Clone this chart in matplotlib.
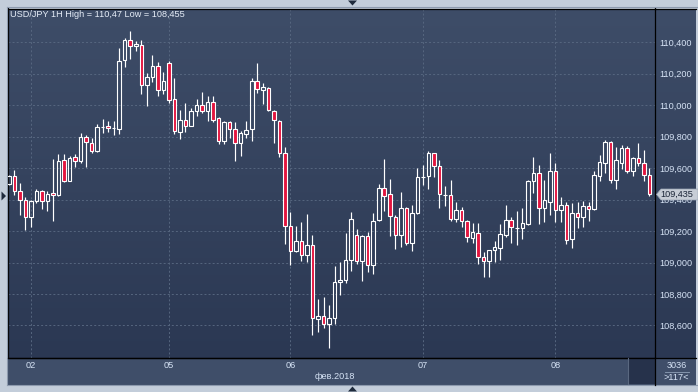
import matplotlib
matplotlib.use('Agg')
import matplotlib.pyplot as plt
import numpy as np
from matplotlib.patches import Rectangle, Polygon
from matplotlib.colors import LinearSegmentedColormap
import matplotlib.transforms as mtransforms

# ---------------- data ----------------
open_ = [
    109.499, 109.547, 109.452, 109.395, 109.287, 109.393, 109.452, 109.393, 109.441, 109.431,
    109.649, 109.520, 109.668, 109.647, 109.796, 109.757, 109.706, 109.862, 109.866, 109.857,
    109.851, 110.285, 110.413, 110.374, 110.381, 110.131, 110.177, 110.247, 110.095, 110.268,
    110.039, 109.827, 109.908, 109.870, 109.961, 109.999, 109.961, 110.018, 109.919, 109.770,
    109.891, 109.846, 109.757, 109.815, 109.846, 110.152, 110.094, 110.107, 109.961, 109.897,
    109.694, 109.229, 109.075, 109.134, 109.049, 109.113, 108.638, 108.663, 108.610, 108.650,
    108.879, 108.886, 109.019, 109.176, 109.007, 109.166, 108.981, 109.272, 109.471, 109.433,
    109.287, 109.172, 109.344, 109.121, 109.312, 109.545, 109.547, 109.694, 109.615, 109.429,
    109.427, 109.278, 109.333, 109.261, 109.153, 109.185, 109.034, 109.007, 109.077, 109.094,
    109.176, 109.270, 109.217, 109.217, 109.246, 109.518, 109.567, 109.344, 109.386, 109.584,
    109.331, 109.363, 109.147, 109.312, 109.287, 109.357, 109.338, 109.550, 109.634, 109.764,
    109.522, 109.630, 109.730, 109.584, 109.662, 109.630, 109.554,
]
close = [
    109.547, 109.452, 109.399, 109.287, 109.393, 109.452, 109.388, 109.435, 109.427, 109.643,
    109.516, 109.664, 109.643, 109.796, 109.764, 109.706, 109.861, 109.864, 109.855, 109.857,
    110.279, 110.413, 110.374, 110.389, 110.131, 110.177, 110.247, 110.095, 110.152, 110.035,
    109.834, 109.904, 109.870, 109.961, 109.999, 109.965, 110.018, 109.908, 109.770, 109.891,
    109.846, 109.757, 109.821, 109.840, 110.152, 110.101, 110.114, 109.967, 109.904, 109.694,
    109.229, 109.070, 109.134, 109.045, 109.113, 108.644, 108.663, 108.610, 108.650, 108.879,
    108.886, 109.019, 109.274, 109.007, 109.166, 108.981, 109.267, 109.471, 109.426, 109.293,
    109.172, 109.344, 109.121, 109.312, 109.541, 109.545, 109.694, 109.611, 109.435, 109.429,
    109.278, 109.333, 109.261, 109.159, 109.193, 109.034, 109.007, 109.077, 109.098, 109.179,
    109.270, 109.223, 109.217, 109.248, 109.518, 109.567, 109.344, 109.395, 109.582, 109.331,
    109.363, 109.143, 109.312, 109.287, 109.357, 109.338, 109.556, 109.641, 109.764, 109.522,
    109.649, 109.730, 109.584, 109.662, 109.630, 109.554, 109.435,
]
high = [
    109.558, 109.586, 109.505, 109.416, 109.399, 109.469, 109.463, 109.452, 109.658, 109.689,
    109.689, 109.675, 109.689, 109.823, 109.813, 109.791, 109.880, 109.912, 109.897, 109.897,
    110.364, 110.427, 110.470, 110.410, 110.413, 110.205, 110.317, 110.275, 110.211, 110.279,
    110.173, 109.972, 110.014, 109.982, 110.042, 110.082, 110.056, 110.056, 109.923, 109.897,
    109.901, 109.891, 109.834, 109.901, 110.173, 110.268, 110.141, 110.114, 109.967, 109.906,
    109.734, 109.320, 109.231, 109.257, 109.308, 109.176, 108.769, 108.782, 108.731, 108.975,
    109.002, 109.187, 109.320, 109.214, 109.176, 109.193, 109.314, 109.499, 109.658, 109.530,
    109.303, 109.448, 109.356, 109.367, 109.600, 109.622, 109.706, 109.696, 109.651, 109.486,
    109.524, 109.382, 109.350, 109.270, 109.248, 109.253, 109.068, 109.079, 109.136, 109.244,
    109.365, 109.291, 109.329, 109.344, 109.524, 109.673, 109.620, 109.524, 109.698, 109.630,
    109.414, 109.382, 109.380, 109.386, 109.391, 109.386, 109.584, 109.686, 109.779, 109.775,
    109.732, 109.747, 109.743, 109.669, 109.762, 109.715, 109.598,
]
low = [
    109.494, 109.431, 109.304, 109.208, 109.225, 109.378, 109.342, 109.325, 109.265, 109.424,
    109.511, 109.516, 109.609, 109.634, 109.609, 109.696, 109.702, 109.823, 109.832, 109.808,
    109.817, 110.243, 110.294, 110.343, 110.073, 109.997, 110.148, 110.061, 110.071, 110.014,
    109.817, 109.785, 109.829, 109.866, 109.929, 109.948, 109.897, 109.893, 109.755, 109.755,
    109.791, 109.643, 109.679, 109.791, 109.774, 110.078, 110.010, 109.961, 109.759, 109.672,
    109.119, 108.985, 109.064, 109.007, 109.002, 108.538, 108.559, 108.584, 108.455, 108.606,
    108.795, 108.869, 108.947, 108.992, 108.884, 108.937, 108.928, 109.267, 109.329, 109.166,
    109.087, 109.096, 109.113, 109.075, 109.310, 109.494, 109.469, 109.543, 109.344, 109.359,
    109.265, 109.259, 109.227, 109.132, 109.121, 108.990, 108.909, 108.909, 109.005, 109.015,
    109.159, 109.126, 109.111, 109.147, 109.238, 109.439, 109.244, 109.259, 109.302, 109.259,
    109.259, 109.117, 109.094, 109.217, 109.227, 109.265, 109.333, 109.520, 109.567, 109.503,
    109.467, 109.592, 109.571, 109.550, 109.615, 109.518, 109.425,
]

day_labels = ['02', '05', '06', '07', '08']
day_bar_index = [4, 29, 51, 75, 99]
price_ticks = [108.6, 108.8, 109.0, 109.2, 109.4, 109.6, 109.8, 110.0, 110.2, 110.4]
title_text = 'USD/JPY 1H High = 110,47 Low = 108,455'
last_price_text = '109,435'
month_text = 'фев.2018'
corner_top_text = '3036'
corner_bottom_text = '>117<'

# ---------------- styling ----------------
W, H = 698, 392
FONT = 'Liberation Sans'
FS = 6.6
TXT = '#d6e3f5'
RED = '#e3153f'
GRID = '#56667f'
TOP_BG = '#3e4d68'
BOT_BG = '#2b3853'
BAND = '#3f4e69'
FRAME = '#c3cdda'

plt.rcParams['font.family'] = [FONT, 'DejaVu Sans']

fig = plt.figure(figsize=(W / 100, H / 100), dpi=100)
fig.patch.set_facecolor(FRAME)


def rect(x0, y0, x1, y1):
    return [x0 / W, 1 - y1 / H, (x1 - x0) / W, (y1 - y0) / H]


grad_cmap = LinearSegmentedColormap.from_list('bg', [TOP_BG, BOT_BG])
grad = np.linspace(0, 1, 256).reshape(-1, 1)

# right price panel background
axr = fig.add_axes(rect(655, 8.5, 696, 357.5), zorder=1)
axr.imshow(grad, cmap=grad_cmap, aspect='auto', extent=[0, 1, 0, 1],
           transform=axr.transAxes, origin='upper')
axr.set_axis_off()

# bottom date band
axb = fig.add_axes(rect(8, 357.5, 696, 384.5), zorder=1)
axb.set_facecolor(BAND)
axb.set_xticks([]); axb.set_yticks([])
for s in axb.spines.values():
    s.set_visible(False)

# main chart axes
n = len(open_)
ax = fig.add_axes(rect(8, 8.5, 655, 357.5), zorder=3)
ax.patch.set_alpha(0)
ax.imshow(grad, cmap=grad_cmap, aspect='auto', extent=[0, 1, 0, 1],
          transform=ax.transAxes, origin='upper', zorder=0)
ax.set_xlim(-0.14, 117.03)
ax.set_ylim(108.396, 110.615)

for yv in price_ticks:
    ax.axhline(yv, color=GRID, lw=0.7, ls=(0, (2.0, 2.2)), zorder=1)
for xv in day_bar_index:
    ax.axvline(xv, color=GRID, lw=0.7, ls=(0, (2.0, 2.2)), zorder=1)

bw = 0.64
for i in range(n):
    o, h, l, c = open_[i], high[i], low[i], close[i]
    top, bot = max(o, c), min(o, c)
    bear = c < o
    ax.vlines(i, top, h, color='white', lw=0.85, zorder=2)
    ax.vlines(i, l, bot, color='white', lw=0.85, zorder=2)
    ax.add_patch(Rectangle((i - bw / 2, bot), bw, max(top - bot, 0.0005),
                           facecolor=RED if bear else 'none',
                           edgecolor='white', lw=0.8, zorder=3))

ax.yaxis.tick_right()
ax.set_yticks(price_ticks)
ax.set_yticklabels([f'{v:.3f}'.replace('.', ',') for v in price_ticks])
ax.set_xticks(day_bar_index)
ax.set_xticklabels(day_labels)
ax.tick_params(axis='y', length=0, pad=3.0, labelsize=FS, labelcolor=TXT)
ax.tick_params(axis='x', length=0, pad=2.6, labelsize=FS, labelcolor=TXT)
for s in ax.spines.values():
    s.set_color('black'); s.set_linewidth(0.9)

ax.text(0.003, 0.982, title_text, transform=ax.transAxes, ha='left', va='center',
        fontsize=FS, color='#e6edf7', zorder=5)

# ---------------- overlay (pixel coordinates) ----------------
ov = fig.add_axes([0, 0, 1, 1], zorder=10)
ov.set_xlim(0, W); ov.set_ylim(H, 0)
ov.set_axis_off(); ov.patch.set_alpha(0)

# frame lines
ov.plot([7, 7], [7, 385], color='#8d9aae', lw=0.8)
ov.plot([7, 696.5], [7, 7], color='#8d9aae', lw=0.8)
ov.plot([7, 696.5], [385, 385], color='#8d9aae', lw=0.8)
ov.plot([655, 655], [357.5, 384.5], color='black', lw=0.9)
ov.plot([8, 696], [357.5, 357.5], color='black', lw=0.9)
ov.plot([655, 696], [8.5, 8.5], color='black', lw=0.9)

# scrollbar block
ov.add_patch(Rectangle((628, 358), 26.5, 26, facecolor='#26324b', edgecolor='none'))
ov.plot([627.5, 627.5], [358, 384], color='#5a6880', lw=0.8)

# bottom-right corner info
ov.text(676.5, 365.2, corner_top_text, ha='center', va='center', fontsize=FS, color=TXT)
ov.plot([665, 689], [371.7, 371.7], color='#8fa0b7', lw=0.6)
ov.text(676.5, 377.2, corner_bottom_text, ha='center', va='center', fontsize=FS, color=TXT)

# month label
ov.text(335, 376.8, month_text, ha='center', va='center', fontsize=FS, color=TXT)

# current price tag
ov.add_patch(Polygon([(656.5, 194.4), (661, 189), (698, 189), (698, 200), (661, 200)],
                     closed=True, facecolor='#c7cdd6', edgecolor='#9aa5b5', lw=0.5))
ov.text(676.5, 194.6, last_price_text, ha='center', va='center', fontsize=FS, color='#1b2537')

# navigation triangles
ov.add_patch(Polygon([(348, 0.5), (357, 0.5), (352.5, 5.5)], closed=True, facecolor='#1f2b3d'))
ov.add_patch(Polygon([(348, 391.5), (357, 391.5), (352.5, 386.5)], closed=True, facecolor='#1f2b3d'))
ov.add_patch(Polygon([(1.5, 191.5), (1.5, 200.5), (6, 196)], closed=True, facecolor='#1f2b3d'))

fig.savefig('out.png', dpi=100, facecolor=FRAME)
